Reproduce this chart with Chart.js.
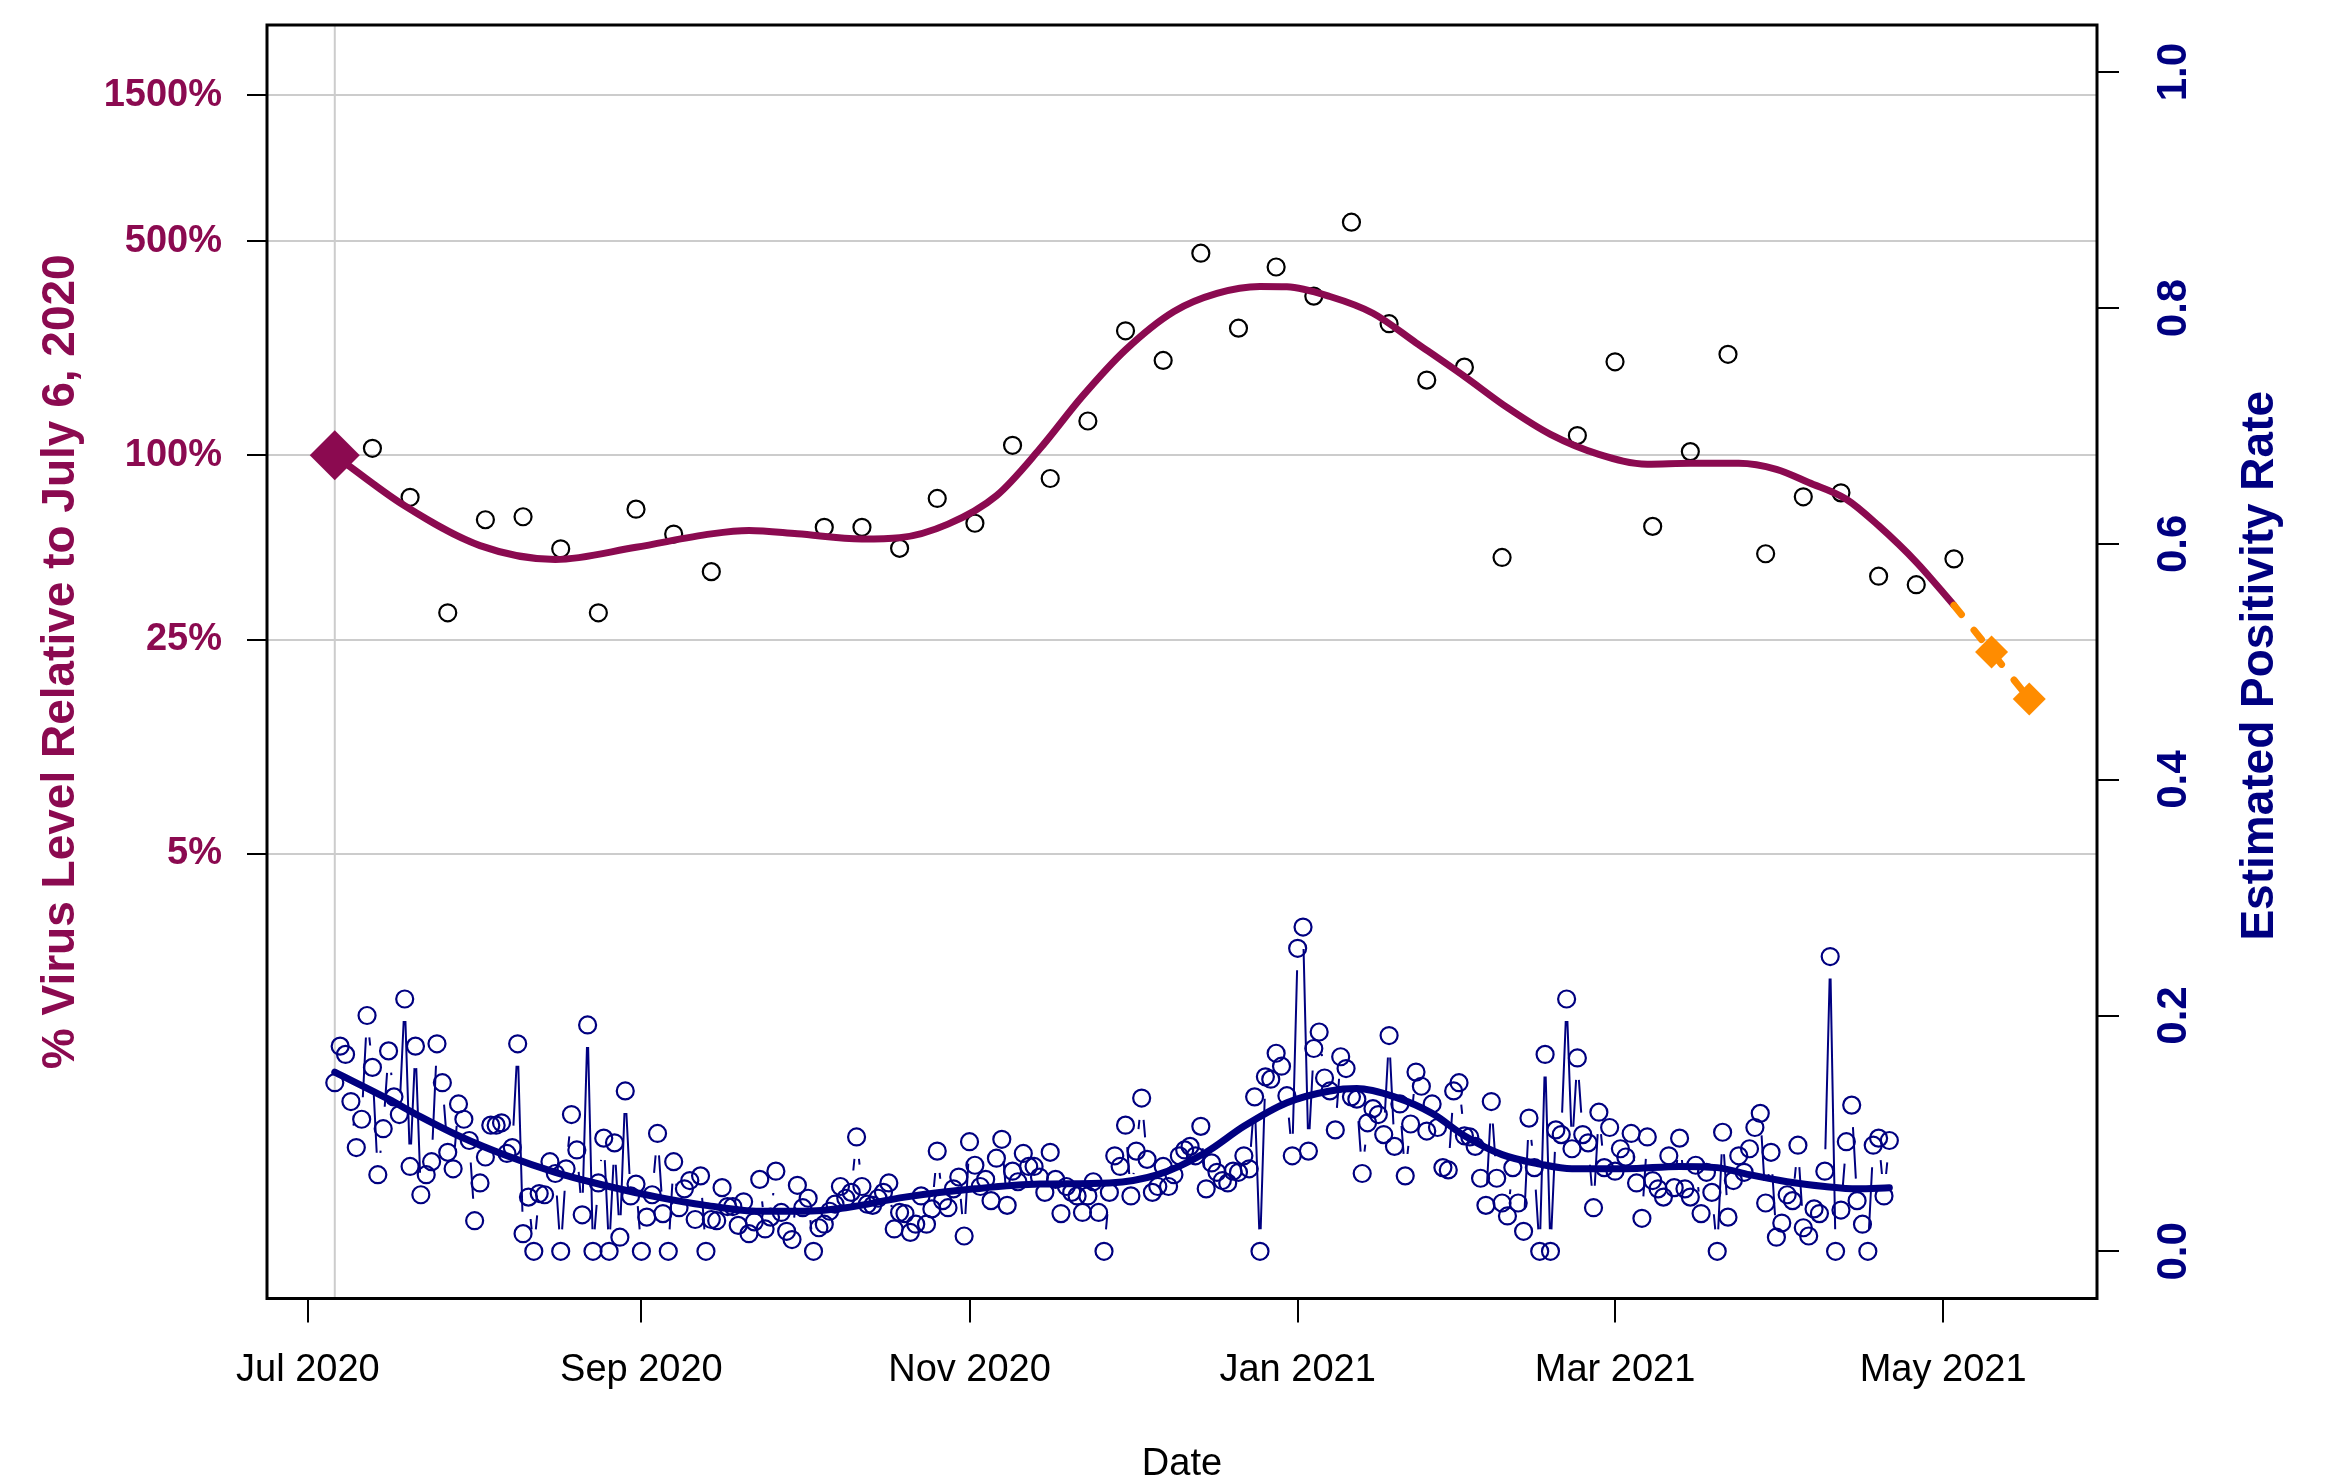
<!DOCTYPE html>
<html>
<head>
<meta charset="utf-8">
<script src="https://cdn.jsdelivr.net/npm/chart.js@4.4.1/dist/chart.umd.min.js"></script>
<style>
  html, body { margin: 0; padding: 0; background: #fff; overflow: hidden; }
  #wrap { width: 2326px; height: 1480px; }
</style>
</head>
<body>
<div id="wrap"><canvas id="chart" width="2326" height="1480"></canvas></div>
<script>
// x values are days counted from 1 Jul 2020
const xTickDays = [0, 62, 123, 184, 243, 304];
const xTickLabels = ['Jul 2020', 'Sep 2020', 'Nov 2020', 'Jan 2021', 'Mar 2021', 'May 2021'];
const refDay = 5; // July 6, 2020

const virusTicks = [1500, 500, 100, 25, 5];
const positivityTicks = [0, 0.2, 0.4, 0.6, 0.8, 1.0];

// weekly samples, % of the July 6 level
const sampleDays = [12, 19, 26, 33, 40, 47, 54, 61, 68, 75, 96, 103, 110, 117, 124, 131, 138, 145, 152, 159,
  166, 173, 180, 187, 194, 201, 208, 215, 222, 236, 243, 250, 257, 264, 271, 278, 285, 292, 299, 306];
const samplePct = [105.4, 72.9, 30.6, 61.6, 63.0, 49.5, 30.6, 66.7, 55.3, 41.7, 58.2, 58.2, 49.7, 72.3, 60.0, 107.8, 84.0, 129.4, 255, 204,
  457, 260, 412, 331, 577, 269, 176, 194, 46.4, 116, 202, 58.6, 102.8, 213.7, 47.7, 73.2, 75.4, 40.3, 37.8, 45.9];

// smoothed virus level
const trendDays = [5, 18, 32, 46, 61, 75, 82, 91, 103, 110, 119, 128, 136, 144, 152, 161, 169, 177, 182, 190,
  198, 206, 215, 223, 231, 240, 249, 257, 266, 273, 279, 286, 292, 299, 306];
const trendPct = [100, 68.4, 50.7, 45.7, 50.1, 55.4, 56.8, 55.4, 53.3, 53.8, 59.6, 73.8, 104.6, 156, 221, 295, 338, 356, 355, 330,
  291, 233, 181, 143, 117, 100.7, 93.5, 94.2, 94.2, 90, 81.5, 71.9, 58.9, 44.8, 32.4];

// forecast
const forecastDays = [306, 313, 320];
const forecastPct = [32.4, 22.8, 16.0];

// daily estimated positivity rate, from day 5 on
const positivityStartDay = 5;
const positivity = [
  0.143, 0.174, 0.167, 0.127, 0.088, 0.112, 0.200, 0.156, 0.065, 0.104,
  0.170, 0.131, 0.116, 0.214, 0.072, 0.174, 0.048, 0.065, 0.076, 0.176,
  0.143, 0.084, 0.070, 0.125, 0.112, 0.094, 0.026, 0.058, 0.080, 0.107,
  0.107, 0.109, 0.083, 0.088, 0.176, 0.015, 0.046, 0, 0.049, 0.048,
  0.076, 0.066, 0, 0.070, 0.116, 0.086, 0.031, 0.192, 0, 0.058,
  0.096, 0, 0.092, 0.012, 0.136, 0.047, 0.057, 0, 0.029, 0.048,
  0.100, 0.032, 0, 0.076, 0.037, 0.053, 0.060, 0.027, 0.064, 0,
  0.027, 0.026, 0.054, 0.038, 0.038, 0.022, 0.042, 0.015, 0.025, 0.061,
  0.019, 0.029, 0.068, 0.033, 0.017, 0.010, 0.056, 0.037, 0.045, 0,
  0.020, 0.023, 0.034, 0.040, 0.055, 0.045, 0.050, 0.097, 0.055, 0.040,
  0.039, 0.045, 0.050, 0.058, 0.019, 0.033, 0.032, 0.016, 0.023, 0.047,
  0.023, 0.036, 0.085, 0.043, 0.037, 0.053, 0.063, 0.013, 0.093, 0.073,
  0.055, 0.061, 0.043, 0.079, 0.095, 0.039, 0.068, 0.059, 0.083, 0.072,
  0.072, 0.063, 0.050, 0.084, 0.061, 0.032, 0.055, 0.050, 0.047, 0.033,
  0.047, 0.059, 0.033, 0, 0.050, 0.081, 0.072, 0.107, 0.047, 0.085,
  0.130, 0.078, 0.050, 0.055, 0.072, 0.055, 0.065, 0.081, 0.086, 0.089,
  0.081, 0.106, 0.053, 0.075, 0.067, 0.060, 0.058, 0.068, 0.067, 0.081,
  0.070, 0.131, 0, 0.148, 0.146, 0.168, 0.157, 0.132, 0.081, 0.257,
  0.275, 0.085, 0.172, 0.186, 0.147, 0.136, 0.103, 0.165, 0.155, 0.131,
  0.129, 0.066, 0.109, 0.121, 0.116, 0.099, 0.183, 0.089, 0.125, 0.064,
  0.108, 0.152, 0.140, 0.102, 0.125, 0.105, 0.071, 0.069, 0.136, 0.143,
  0.098, 0.097, 0.089, 0.062, 0.039, 0.127, 0.062, 0.041, 0.030, 0.071,
  0.041, 0.017, 0.113, 0.071, 0, 0.167, 0, 0.103, 0.099, 0.214,
  0.087, 0.164, 0.099, 0.092, 0.037, 0.118, 0.071, 0.105, 0.068, 0.087,
  0.080, 0.100, 0.058, 0.028, 0.097, 0.060, 0.053, 0.046, 0.081, 0.054,
  0.096, 0.053, 0.046, 0.073, 0.032, 0.067, 0.050, 0, 0.101, 0.029,
  0.060, 0.081, 0.067, 0.087, 0.105, 0.117, 0.041, 0.084, 0.012, 0.024,
  0.048, 0.043, 0.090, 0.020, 0.013, 0.036, 0.032, 0.068, 0.250, 0,
  0.035, 0.093, 0.124, 0.043, 0.023, 0, 0.090, 0.096, 0.047, 0.094
];

// smoothed positivity
const positivityTrendDays = [5, 15, 21, 28, 37, 46, 56, 65, 74, 84, 92, 100, 111, 124, 136, 149, 158, 167, 174, 182,
  190, 195, 202, 209, 215, 222, 229, 235, 245, 255, 262, 268, 275, 282, 288, 294];
const positivityTrend = [0.152, 0.129, 0.114, 0.098, 0.081, 0.067, 0.055, 0.046, 0.039, 0.034, 0.034, 0.037, 0.046, 0.053, 0.057, 0.058, 0.065, 0.084, 0.106, 0.126,
  0.136, 0.138, 0.131, 0.117, 0.098, 0.082, 0.074, 0.070, 0.070, 0.072, 0.071, 0.065, 0.059, 0.055, 0.053, 0.054];

const PURPLE = '#8B0A50';
const NAVY = '#000080';
const ORANGE = '#FF8C00';
const FONT = 'Liberation Sans, Arial, sans-serif';

const pts = (xs, ys) => xs.map((x, i) => ({ x, y: ys[i] }));
const positivityPts = positivity.map((v, i) => ({ x: positivityStartDay + i, y: v }));

// keep the plot box where it is, whatever the labels want
function fixBox(size) {
  return s => {
    if (s.isHorizontal()) s.height = size; else s.width = size;
    s.paddingTop = 0; s.paddingBottom = 0; s.paddingLeft = 0; s.paddingRight = 0;
  };
}

// R type="b": segments between points, cut back near each symbol
const typeBLines = {
  id: 'typeBLines',
  beforeDatasetsDraw(chart) {
    const els = chart.getDatasetMeta(5).data;
    const gap = 22;
    const ctx = chart.ctx;
    ctx.save();
    ctx.beginPath();
    for (let i = 1; i < els.length; i++) {
      const a = els[i - 1], b = els[i];
      const dx = b.x - a.x, dy = b.y - a.y;
      const d = Math.hypot(dx, dy);
      if (d <= 2 * gap) continue;
      const ux = dx / d, uy = dy / d;
      ctx.moveTo(a.x + ux * gap, a.y + uy * gap);
      ctx.lineTo(b.x - ux * gap, b.y - uy * gap);
    }
    ctx.strokeStyle = NAVY;
    ctx.lineWidth = 2;
    ctx.stroke();
    ctx.restore();
  }
};

const frame = {
  id: 'frame',
  beforeDatasetsDraw(chart) {
    const { ctx, chartArea: a } = chart;
    const x = chart.scales.x.getPixelForValue(refDay);
    ctx.save();
    ctx.strokeStyle = '#cccccc';
    ctx.lineWidth = 2;
    ctx.beginPath();
    ctx.moveTo(x, a.top);
    ctx.lineTo(x, a.bottom);
    ctx.stroke();
    ctx.restore();
  },
  afterDatasetsDraw(chart) {
    const { ctx, chartArea: a } = chart;
    ctx.save();
    ctx.strokeStyle = '#000';
    ctx.lineWidth = 3;
    ctx.strokeRect(a.left, a.top, a.right - a.left, a.bottom - a.top);
    ctx.restore();
  }
};

const rightTitle = {
  id: 'rightTitle',
  afterDraw(chart) {
    const s = chart.scales.y2;
    const ctx = chart.ctx;
    ctx.save();
    ctx.translate(s.right - 66, (s.top + s.bottom) / 2 + 4);
    ctx.rotate(-Math.PI / 2);
    ctx.font = 'bold 46px ' + FONT;
    ctx.fillStyle = NAVY;
    ctx.textAlign = 'center';
    ctx.textBaseline = 'middle';
    ctx.fillText('Estimated Positivity Rate', 0, 0);
    ctx.restore();
  }
};

new Chart(document.getElementById('chart'), {
  type: 'scatter',
  data: {
    datasets: [
      {
        type: 'scatter', data: [{ x: refDay, y: 100 }], yAxisID: 'y',
        pointStyle: 'rectRot', pointRadius: 25, backgroundColor: PURPLE, borderColor: PURPLE, borderWidth: 0
      },
      {
        type: 'line', data: pts(forecastDays, forecastPct), yAxisID: 'y',
        borderColor: ORANGE, borderWidth: 7, borderDash: [12, 20], borderCapStyle: 'round',
        pointStyle: 'rectRot', pointRadius: [0, 16.5, 16.5], pointBackgroundColor: ORANGE, pointBorderWidth: 0
      },
      {
        type: 'line', data: pts(trendDays, trendPct), yAxisID: 'y',
        borderColor: PURPLE, borderWidth: 7, borderCapStyle: 'round', pointRadius: 0,
        cubicInterpolationMode: 'monotone'
      },
      {
        type: 'scatter', data: pts(sampleDays, samplePct), yAxisID: 'y',
        pointStyle: 'circle', pointRadius: 8.5, borderColor: '#000', borderWidth: 2.2,
        backgroundColor: 'rgba(0,0,0,0)'
      },
      {
        type: 'line', data: pts(positivityTrendDays, positivityTrend), yAxisID: 'y2',
        borderColor: NAVY, borderWidth: 7, borderCapStyle: 'round', pointRadius: 0,
        cubicInterpolationMode: 'monotone'
      },
      {
        type: 'scatter', data: positivityPts, yAxisID: 'y2',
        pointStyle: 'circle', pointRadius: 8.5, borderColor: NAVY, borderWidth: 2.2,
        backgroundColor: 'rgba(0,0,0,0)'
      }
    ]
  },
  options: {
    responsive: false,
    animation: false,
    devicePixelRatio: 1,
    layout: { padding: { top: 21, left: 0, right: 0, bottom: 0 } },
    plugins: { legend: { display: false }, tooltip: { enabled: false } },
    scales: {
      x: {
        type: 'linear', position: 'bottom', min: -7.6, max: 332.6,
        afterBuildTicks: s => { s.ticks = xTickDays.map(v => ({ value: v })); },
        afterFit: fixBox(181.5),
        ticks: {
          autoSkip: false, maxRotation: 0, padding: 25, color: '#000',
          font: { family: FONT, size: 38 },
          callback: v => xTickLabels[xTickDays.indexOf(v)]
        },
        grid: { drawOnChartArea: false, drawTicks: true, tickLength: 24, color: '#000', lineWidth: 2 },
        border: { display: false },
        title: {
          display: true, text: 'Date', color: '#000',
          font: { family: FONT, size: 38, lineHeight: 0.8 }, padding: { top: 0, bottom: 0 }
        }
      },
      y: {
        type: 'logarithmic', position: 'left', min: 0.1765, max: 2541,
        afterBuildTicks: s => { s.ticks = virusTicks.map(v => ({ value: v })); },
        afterFit: fixBox(267),
        ticks: {
          autoSkip: false, padding: 25, color: PURPLE,
          font: { family: FONT, size: 38, weight: 'bold' },
          callback: v => v + '%'
        },
        grid: { color: '#cccccc', lineWidth: 2, tickColor: '#000', tickLength: 20 },
        border: { display: false },
        title: {
          display: true, text: '% Virus Level Relative to July 6, 2020', color: PURPLE,
          font: { family: FONT, size: 46, weight: 'bold' }, padding: { top: 34, bottom: 0 }
        }
      },
      y2: {
        type: 'linear', position: 'right', min: -0.04, max: 1.04,
        afterBuildTicks: s => { s.ticks = positivityTicks.map(v => ({ value: v })); },
        afterFit: fixBox(229),
        ticks: {
          autoSkip: false, padding: 26, color: NAVY, minRotation: 90, maxRotation: 90, crossAlign: 'center',
          font: { family: FONT, size: 42, weight: 'bold' },
          callback: v => v.toFixed(1)
        },
        grid: { drawOnChartArea: false, color: '#000', lineWidth: 2, tickLength: 22 },
        border: { display: false }
      }
    }
  },
  plugins: [frame, typeBLines, rightTitle]
});
</script>
</body>
</html>
